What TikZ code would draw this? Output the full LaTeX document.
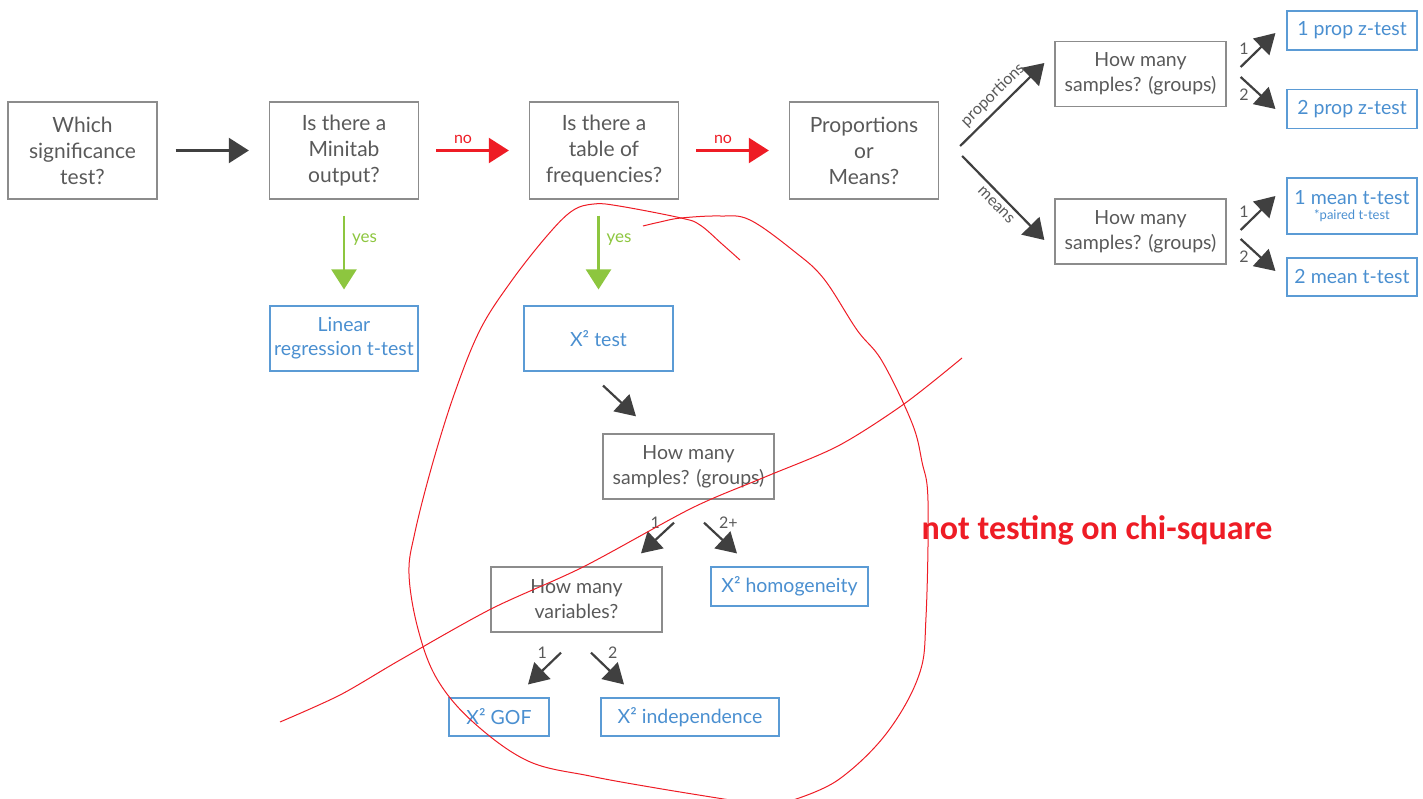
\documentclass[tikz,border=0pt]{standalone}
\usepackage{fontspec}
\setmainfont{Lato}
\newfontfamily\notefont{Carlito}
\usetikzlibrary{positioning, arrows.meta, calc}
\definecolor{boxgray}{HTML}{8C8C8C}
\definecolor{txtgray}{HTML}{595959}
\definecolor{arrgray}{HTML}{404040}
\definecolor{tblue}{HTML}{4A8FD0}
\definecolor{bblue}{HTML}{5B9BD5}
\definecolor{nored}{HTML}{EE1C25}
\definecolor{yesgreen}{HTML}{8DC63F}

\begin{document}
\begin{tikzpicture}[x=1pt,y=-1pt,
    qbox/.style={draw=boxgray, line width=1.3pt, text=txtgray, align=center, inner sep=0pt,
        minimum width=149pt, minimum height=97pt, font=\fontsize{21}{26}\selectfont},
    sbox/.style={draw=boxgray, line width=1.3pt, text=txtgray, align=center, inner sep=0pt,
        minimum width=171pt, minimum height=65pt, font=\fontsize{19.5}{25}\selectfont},
    tbox/.style={draw=bblue, line width=1.1pt, text=tblue, align=center, inner sep=0pt,
        font=\fontsize{19.5}{24}\selectfont},
    arr/.style={draw=arrgray, line width=2.2pt, -{Triangle[length=20pt,width=25pt]}},
    sarr/.style={draw=arrgray, line width=2.2pt, -{Triangle[length=20pt,width=23pt]}},
    noarr/.style={draw=nored, line width=2.2pt, -{Triangle[length=20pt,width=25pt]}},
    yesarr/.style={draw=yesgreen, line width=2.2pt, -{Triangle[length=20pt,width=25pt]}},
    lab/.style={inner sep=0pt, text=txtgray, font=\fontsize{16}{18}\selectfont},
    nolab/.style={inner sep=0pt, text=nored, font=\fontsize{16}{18}\selectfont},
    yeslab/.style={inner sep=0pt, text=yesgreen, font=\fontsize{17}{19}\selectfont},
    scribble/.style={draw=nored, line width=1pt, line join=round}]
\useasboundingbox (0,0) rectangle (1423,799);

% main row
\node[qbox] (which) at (82.5,150.5) {Which\\significance\\test?};
\node[qbox] (minitab) at (344,150.5) {Is there a\\Minitab\\output?};
\node[qbox] (table) at (604,150.5) {Is there a\\table of\\frequencies?};
\node[qbox] (pm) at (864,150.5) {Proportions\\or\\Means?};

% proportions / means branch
\node[sbox] (sampP) at (1140.5,74) {How many\\samples? (groups)};
\node[sbox] (sampM) at (1140.5,231.5) {How many\\samples? (groups)};
\node[tbox, minimum width=130pt, minimum height=39pt] (prop1) at (1352,30.5) {1 prop z-test};
\node[tbox, minimum width=130pt, minimum height=39pt] (prop2) at (1352,109) {2 prop z-test};
\node[tbox, minimum width=130pt, minimum height=56pt] (mean1) at (1352,206)
    {1 mean t-test\\[-9pt]{\fontsize{13}{15}\selectfont *paired t-test}};
\node[tbox, minimum width=130pt, minimum height=38pt] (mean2) at (1352,277) {2 mean t-test};

% yes branches
\node[tbox, minimum width=148pt, minimum height=65pt] (linear) at (344,338.5) {Linear\\regression t-test};
\node[tbox, minimum width=149pt, minimum height=65pt] (xtest) at (598.5,338.5) {X² test};
\node[sbox] (sampL) at (688.5,466.5) {How many\\samples? (groups)};
\node[sbox] (vars) at (576.5,599.5) {How many\\variables?};
\node[tbox, minimum width=157pt, minimum height=39pt] (homog) at (789.5,586.5) {X² homogeneity};
\node[tbox, minimum width=100pt, minimum height=38pt] (gof) at (499,717) {X² GOF};
\node[tbox, minimum width=178pt, minimum height=38pt] (indep) at (690,717) {X² independence};

\node[text=nored, font=\notefont\bfseries\fontsize{34}{38}\selectfont, inner sep=0pt] (note) at (1097,530) {not testing on chi-square};

% connectors
\draw[arr, shorten <=18pt, shorten >=20pt] (which) -- (minitab);
\draw[noarr, shorten <=17pt, shorten >=20pt] (minitab) -- node[nolab, pos=0.4, above=6pt] {no} (table);
\draw[noarr, shorten <=17pt, shorten >=20pt] (table) -- node[nolab, pos=0.4, above=6pt] {no} (pm);
\draw[yesarr, shorten <=16pt, shorten >=16pt] (minitab) -- node[yeslab, pos=0.38, right=7pt] {yes} (linear);
\draw[yesarr, shorten <=16pt, shorten >=16pt] (table.south -| xtest.north) -- node[yeslab, pos=0.38, right=7pt] {yes} (xtest.north);

\draw[arr] ([xshift=21pt,yshift=4.5pt]pm.east) -- node[lab, sloped, above=5pt] {proportions} ([xshift=-10pt,yshift=11pt]sampP.west);
\draw[arr] ([xshift=23pt,yshift=-5.5pt]pm.east) -- node[lab, sloped, below=5pt] {means} ([xshift=-10pt,yshift=-8.5pt]sampM.west);

\draw[sarr] ([xshift=14pt,yshift=7pt]sampP.east) -- node[lab, pos=0.3, above left=2pt] {1} ([xshift=-11pt,yshift=-2.5pt]prop1.west);
\draw[sarr] ([xshift=14pt,yshift=-3pt]sampP.east) -- node[lab, pos=0.3, below left=2pt] {2} ([xshift=-11pt]prop2.west);
\draw[sarr] ([xshift=14pt,yshift=1.5pt]sampM.east) -- node[lab, pos=0.3, above left=2pt] {1} ([xshift=-11pt,yshift=10pt]mean1.west);
\draw[sarr] ([xshift=14pt,yshift=-7.5pt]sampM.east) -- node[lab, pos=0.3, below left=2pt] {2} ([xshift=-11pt,yshift=6pt]mean2.west);

\draw[sarr] ([xshift=4.5pt,yshift=-14pt]xtest.south) -- ([xshift=-52.5pt,yshift=17pt]sampL.north);
\draw[sarr] ([xshift=-14.5pt,yshift=-23pt]sampL.south) -- node[lab, pos=0, left=13pt] {1} ([xshift=64.5pt,yshift=13pt]vars.north);
\draw[sarr] ([xshift=15.5pt,yshift=-23pt]sampL.south) -- node[lab, pos=0, right=14pt] {2+} ([xshift=-52.5pt,yshift=13pt]homog.north);
\draw[sarr] ([xshift=-15.5pt,yshift=-20pt]vars.south) -- node[lab, pos=0, left=13pt] {1} ([xshift=29pt,yshift=13pt]gof.north);
\draw[sarr] ([xshift=14.5pt,yshift=-20pt]vars.south) -- node[lab, pos=0, right=16pt] {2} ([xshift=-66pt,yshift=13pt]indep.north);

% red marks
\draw[scribble] plot[smooth, tension=0.6] coordinates {(740,260) (722,244) (700,225) (681,218) (619,206) (594,204) (572,211) (546,237) (510,283) (480,330) (455,392) (433,462) (415,532) (409,574) (418,629) (437,679) (473,722) (528,761) (590,776) (656,788) (730,800)};
\draw[scribble] plot[smooth, tension=0.6] coordinates {(643,226) (660,222) (681,218) (720,216) (750,220) (795,252) (824,279) (857,330) (882,361) (912,423) (922,462) (928,501) (926,617) (919,675) (886,734) (838,780) (793,800)};
\draw[scribble] plot[smooth, tension=0.5] coordinates {(280,722) (340,695) (400,660) (491,609) (583,567) (692,508) (765,477) (838,446) (904,404) (962,358)};
\end{tikzpicture}
\end{document}
